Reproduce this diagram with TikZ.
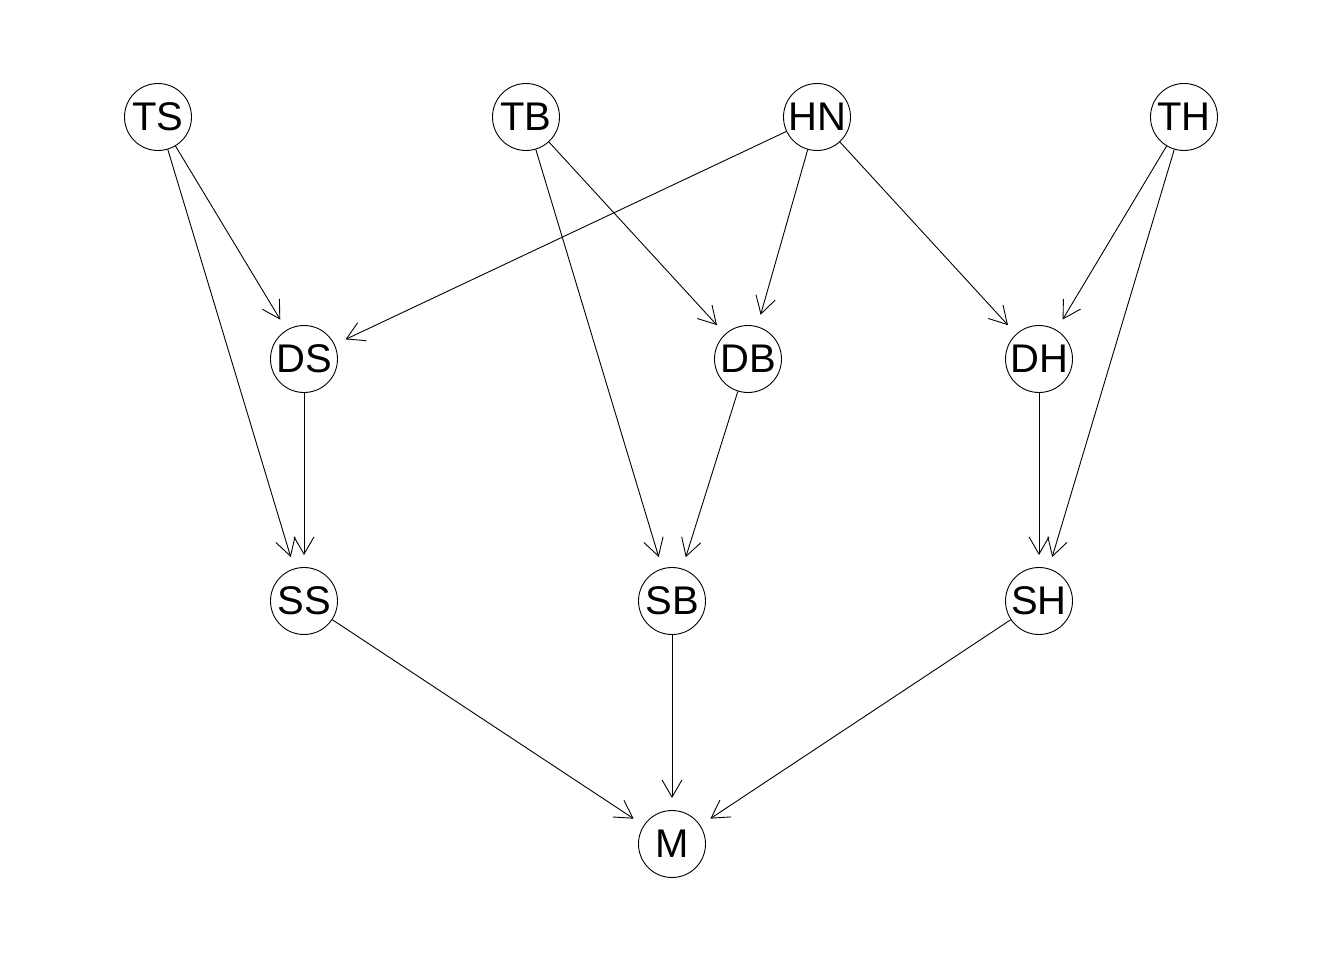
\documentclass[tikz,border=0pt]{standalone}
\usepackage{fontspec}
\setmainfont{Liberation Sans}
\usetikzlibrary{arrows.meta}
\begin{document}
\begin{tikzpicture}[x=1pt,y=-1pt,
  vnode/.style={circle,draw,line width=0.9pt,minimum size=67pt,inner sep=0pt,font=\fontsize{40}{40}\selectfont},
  edge/.style={line width=0.9pt,-{Straight Barb[length=17.3pt,width=20pt,line width=0.9pt]},shorten >=12pt}]
\useasboundingbox (0,0) rectangle (1344,960);
\node[vnode] (TS) at (158,117) {\makebox[0pt]{TS}};
\node[vnode] (TB) at (526,117) {\makebox[0pt]{TB}};
\node[vnode] (HN) at (817,117) {\makebox[0pt]{HN}};
\node[vnode] (TH) at (1184,117) {\makebox[0pt]{TH}};
\node[vnode] (DS) at (304,359) {\makebox[0pt]{DS}};
\node[vnode] (DB) at (748,359) {\makebox[0pt]{DB}};
\node[vnode] (DH) at (1039,359) {\makebox[0pt]{DH}};
\node[vnode] (SS) at (304,601) {\makebox[0pt]{SS}};
\node[vnode] (SB) at (672,601) {\makebox[0pt]{SB}};
\node[vnode] (SH) at (1039,601) {\makebox[0pt]{SH}};
\node[vnode] (M) at (672,844) {\makebox[0pt]{M}};
\draw[edge] (TS) -- (DS);
\draw[edge] (TS) -- (SS);
\draw[edge] (TB) -- (DB);
\draw[edge] (TB) -- (SB);
\draw[edge] (HN) -- (DS);
\draw[edge] (HN) -- (DB);
\draw[edge] (HN) -- (DH);
\draw[edge] (TH) -- (DH);
\draw[edge] (TH) -- (SH);
\draw[edge] (DS) -- (SS);
\draw[edge] (DB) -- (SB);
\draw[edge] (DH) -- (SH);
\draw[edge] (SS) -- (M);
\draw[edge] (SB) -- (M);
\draw[edge] (SH) -- (M);
\end{tikzpicture}
\end{document}
